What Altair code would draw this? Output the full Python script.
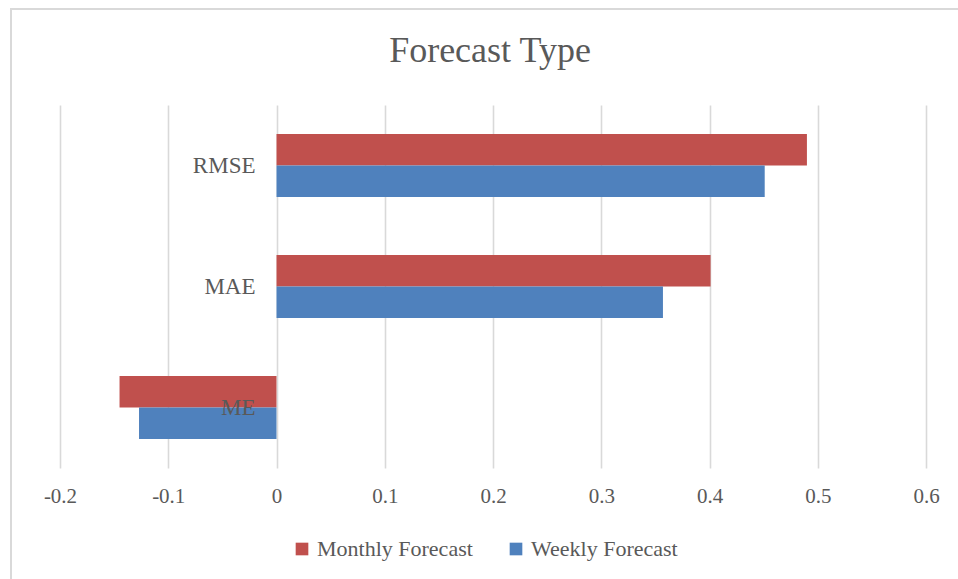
import altair as alt
import pandas as pd

title_text = "Forecast Type"
metrics = ["RMSE", "MAE", "ME"]
monthly = [0.490, 0.401, -0.145]
weekly = [0.451, 0.357, -0.127]
series = ["Monthly Forecast", "Weekly Forecast"]
colors = ["#C0504D", "#4F81BD"]
x_ticks = [-0.2, -0.1, 0, 0.1, 0.2, 0.3, 0.4, 0.5, 0.6]

rows = []
for m, a, b in zip(metrics, monthly, weekly):
    rows.append({"metric": m, "series": series[0], "value": a})
    rows.append({"metric": m, "series": series[1], "value": b})
df = pd.DataFrame(rows)
labels_df = pd.DataFrame({"metric": metrics})
title_df = pd.DataFrame({"t": [title_text]})

FONT = "Liberation Serif, 'Times New Roman', Times, serif"
GREY = "#595959"
GRID = "#d9d9d9"

y_scale = alt.Scale(paddingInner=0.48, paddingOuter=0.24)

bars = alt.Chart(df).mark_bar().encode(
    x=alt.X(
        "value:Q",
        scale=alt.Scale(domain=[-0.2, 0.6], nice=False, zero=False),
        axis=alt.Axis(
            values=x_ticks,
            title=None,
            domain=False,
            ticks=False,
            labelPadding=17,
            labelFont=FONT,
            labelFontSize=21,
            labelColor=GREY,
            labelFlush=False,
            gridColor=GRID,
            gridWidth=1.6,
            labelExpr="(datum.value < 0 ? '-' : '') + format(abs(datum.value), '~g')",
        ),
    ),
    y=alt.Y("metric:N", sort=metrics, axis=None, scale=y_scale),
    yOffset=alt.YOffset("series:N", sort=series,
                        scale=alt.Scale(paddingInner=0, paddingOuter=0)),
    color=alt.Color(
        "series:N",
        sort=series,
        scale=alt.Scale(domain=series, range=colors),
        legend=alt.Legend(
            title=None,
            orient="none",
            legendX=231,
            legendY=433,
            direction="horizontal",
            symbolType="square",
            symbolSize=160,
            symbolStrokeWidth=0,
            labelFont=FONT,
            labelFontSize=22,
            labelColor=GREY,
            labelOffset=4,
            columnPadding=32,
            padding=0,
        ),
    ),
)

cat_labels = alt.Chart(labels_df).mark_text(
    align="right", baseline="middle", dx=-21, font=FONT, fontSize=23, color=GREY
).encode(
    x=alt.datum(0),
    y=alt.Y("metric:N", sort=metrics, axis=None, scale=y_scale),
    text="metric:N",
)

title = alt.Chart(title_df).mark_text(
    align="center", baseline="alphabetic", font=FONT, fontSize=36, color=GREY
).encode(x=alt.value(430), y=alt.value(-43), text="t:N")

frame_df = pd.DataFrame({"k": [0]})
frame_left = alt.Chart(frame_df).mark_rule(color=GRID, strokeWidth=2).encode(
    x=alt.value(-49), y=alt.value(-96), y2=alt.value(520)
)
frame_top = alt.Chart(frame_df).mark_rule(color=GRID, strokeWidth=2).encode(
    x=alt.value(-50), x2=alt.value(950), y=alt.value(-96)
)

chart = alt.layer(frame_left, frame_top, bars, cat_labels, title).properties(
    width=866,
    height=363,
    background="white",
    autosize=alt.AutoSizeParams(type="none"),
    padding={"left": 60, "top": 105, "right": 32, "bottom": 111},
).configure_view(stroke=None)

chart.save("out.html", embed_options={"renderer": "svg", "actions": False})
